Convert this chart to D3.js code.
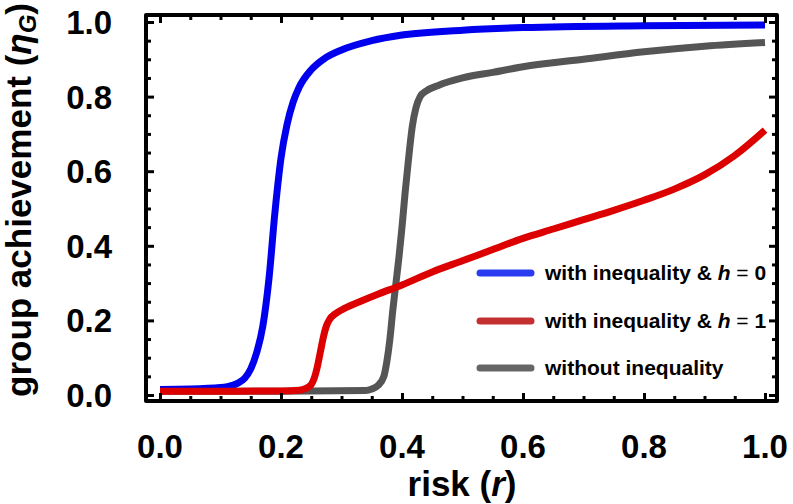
<!DOCTYPE html>
<html>
<head>
<meta charset="utf-8">
<script src="https://cdn.jsdelivr.net/npm/d3@7"></script>
<style>
  html, body { margin: 0; padding: 0; background: #fff; }
  svg { display: block; font-family: "Liberation Sans", Arial, Helvetica, sans-serif; font-weight: bold; }
</style>
</head>
<body>
<svg id="chart" width="793" height="504"></svg>
<script>
// ---- data ----
const xTicks = [0.0, 0.2, 0.4, 0.6, 0.8, 1.0];
const yTicks = [0.0, 0.2, 0.4, 0.6, 0.8, 1.0];

const blueR = [0, 0.05, 0.10, 0.12, 0.13, 0.14, 0.15, 0.16, 0.17, 0.18, 0.19, 0.20, 0.21, 0.22, 0.23, 0.25, 0.27, 0.30, 0.35, 0.40, 0.50, 0.60, 0.80, 1.00];
const blueV = [0.015, 0.016, 0.02, 0.026, 0.033, 0.045, 0.07, 0.115, 0.185, 0.31, 0.49, 0.635, 0.725, 0.785, 0.825, 0.872, 0.90, 0.925, 0.95, 0.965, 0.978, 0.985, 0.99, 0.992];

const redR = [0, 0.10, 0.20, 0.23, 0.24, 0.25, 0.255, 0.26, 0.265, 0.27, 0.275, 0.28, 0.29, 0.30, 0.33, 0.36, 0.40, 0.45, 0.50, 0.55, 0.60, 0.65, 0.70, 0.75, 0.80, 0.85, 0.90, 0.95, 1.00];
const redV = [0.01, 0.01, 0.011, 0.013, 0.017, 0.028, 0.045, 0.075, 0.115, 0.155, 0.185, 0.202, 0.218, 0.228, 0.25, 0.27, 0.295, 0.33, 0.36, 0.39, 0.42, 0.445, 0.47, 0.495, 0.522, 0.552, 0.59, 0.642, 0.71];

const grayR = [0, 0.20, 0.34, 0.35, 0.36, 0.37, 0.375, 0.38, 0.385, 0.39, 0.395, 0.40, 0.405, 0.41, 0.417, 0.423, 0.43, 0.44, 0.46, 0.50, 0.55, 0.60, 0.70, 0.80, 0.90, 1.00];
const grayV = [0.01, 0.01, 0.012, 0.016, 0.025, 0.05, 0.09, 0.15, 0.23, 0.30, 0.37, 0.45, 0.54, 0.62, 0.72, 0.77, 0.80, 0.815, 0.83, 0.85, 0.865, 0.88, 0.90, 0.92, 0.935, 0.945];

const seriesNames = ["with inequality & h = 0", "with inequality & h = 1", "without inequality"];

// ---- layout ----
const svg = d3.select("#chart");
const x = d3.scaleLinear().domain([0, 1]).range([160, 765]);
const y = d3.scaleLinear().domain([0, 1]).range([395, 22]);
const frame = { left: 146, right: 777, top: 15, bottom: 401 };

const lineColors = ["#0000ee", "#dd0000", "#555555"];
const legendColors = ["#2a3cf0", "#c43030", "#666666"];

const line = d3.line().x(d => x(d[0])).y(d => y(d[1])).curve(d3.curveMonotoneX);
const zip = (a, b) => a.map((v, i) => [v, b[i]]);

const series = [
  { pts: zip(grayR, grayV), color: lineColors[2] },
  { pts: zip(blueR, blueV), color: lineColors[0] },
  { pts: zip(redR, redV), color: lineColors[1] }
];

// clip to frame
svg.append("defs").append("clipPath").attr("id", "clip")
  .append("rect").attr("x", frame.left).attr("y", frame.top)
  .attr("width", frame.right - frame.left).attr("height", frame.bottom - frame.top);

const plot = svg.append("g").attr("clip-path", "url(#clip)");
series.forEach(s => {
  plot.append("path").attr("d", line(s.pts))
    .attr("fill", "none").attr("stroke", s.color)
    .attr("stroke-width", 7).attr("stroke-linecap", "butt").attr("stroke-linejoin", "round");
});

// ticks
const minor = d3.range(0, 1.0001, 0.05).map(v => +v.toFixed(2)).filter(v => !xTicks.includes(v));
function axisTicks(axisGen, transform, size, vals) {
  const g = svg.append("g").attr("transform", transform)
    .call(axisGen.tickValues(vals).tickSize(size).tickFormat(""));
  g.select(".domain").remove();
  g.selectAll(".tick line").attr("stroke", "#000").attr("stroke-width", 3);
  return g;
}
axisTicks(d3.axisBottom(x), `translate(0,${frame.bottom})`, -8, xTicks);
axisTicks(d3.axisBottom(x), `translate(0,${frame.bottom})`, -5, minor);
axisTicks(d3.axisTop(x), `translate(0,${frame.top})`, -8, xTicks);
axisTicks(d3.axisTop(x), `translate(0,${frame.top})`, -5, minor);
axisTicks(d3.axisLeft(y), `translate(${frame.left},0)`, -8, yTicks);
axisTicks(d3.axisLeft(y), `translate(${frame.left},0)`, -5, minor);
axisTicks(d3.axisRight(y), `translate(${frame.right},0)`, -8, yTicks);
axisTicks(d3.axisRight(y), `translate(${frame.right},0)`, -5, minor);

// frame
svg.append("rect").attr("x", frame.left).attr("y", frame.top)
  .attr("width", frame.right - frame.left).attr("height", frame.bottom - frame.top)
  .attr("fill", "none").attr("stroke", "#000").attr("stroke-width", 4)
  .attr("stroke-linejoin", "round");

// tick labels
const fmt = d3.format(".1f");
svg.append("g").selectAll("text").data(xTicks).join("text")
  .attr("x", d => x(d)).attr("y", 458)
  .attr("text-anchor", "middle").attr("font-size", 33).text(fmt);
svg.append("g").selectAll("text").data(yTicks).join("text")
  .attr("x", 112).attr("y", d => y(d) + 12)
  .attr("text-anchor", "end").attr("font-size", 33).text(fmt);

// axis titles
const xt = svg.append("text").attr("x", 462).attr("y", 496)
  .attr("text-anchor", "middle").attr("font-size", 35);
xt.append("tspan").text("risk (");
xt.append("tspan").attr("font-style", "italic").text("r");
xt.append("tspan").text(")");

const yt = svg.append("text").attr("transform", "translate(31,200) rotate(-90)")
  .attr("text-anchor", "middle").attr("font-size", 35);
yt.append("tspan").text("group achievement (");
yt.append("tspan").attr("font-style", "italic").text("η");
yt.append("tspan").attr("font-style", "italic").attr("font-size", 24).attr("dy", 5).text("G");
yt.append("tspan").attr("dy", -5).text(")");

// legend
const legendRows = [273, 321, 368];
const leg = svg.append("g");
seriesNames.forEach((name, i) => {
  leg.append("line").attr("x1", 480).attr("x2", 531)
    .attr("y1", legendRows[i]).attr("y2", legendRows[i])
    .attr("stroke", legendColors[i]).attr("stroke-width", 7).attr("stroke-linecap", "round");
  const t = leg.append("text").attr("x", 545).attr("y", legendRows[i] + 7).attr("font-size", 21);
  if (name.includes("h =")) {
    const parts = name.split("h =");
    t.append("tspan").text(parts[0]);
    t.append("tspan").attr("font-style", "italic").text("h");
    t.append("tspan").attr("font-weight", "normal").text(" =");
    t.append("tspan").text(parts[1]);
  } else {
    t.text(name);
  }
});
</script>
</body>
</html>
